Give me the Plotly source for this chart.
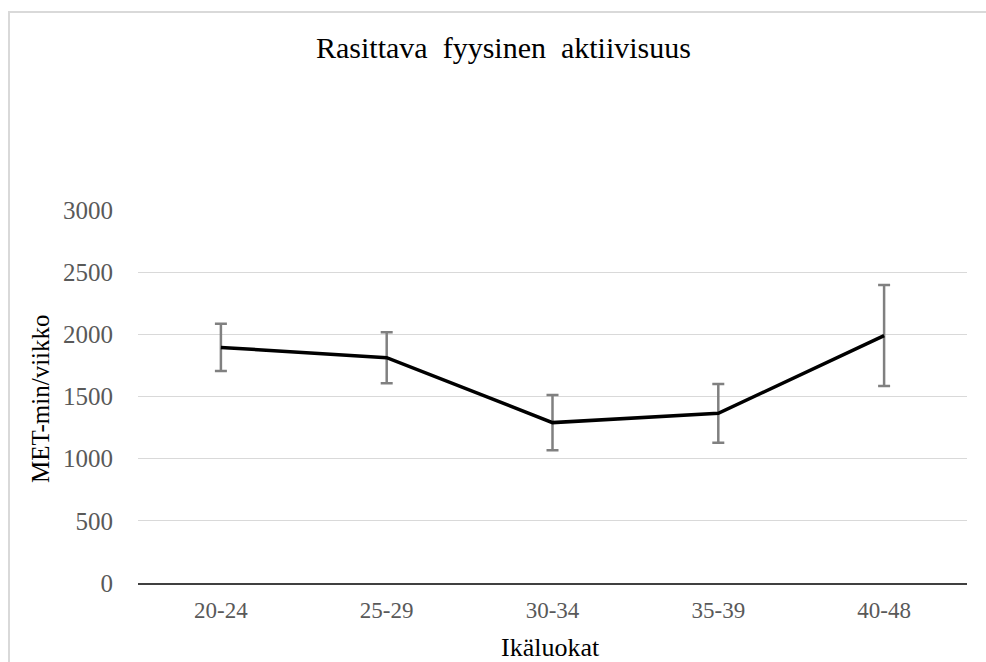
import plotly.graph_objects as go

# Age groups and vigorous physical activity (MET-min/week) with error margins
age_groups = ["20-24", "25-29", "30-34", "35-39", "40-48"]
met_minutes = [1895, 1812, 1290, 1365, 1990]
error_margin = [190, 205, 223, 236, 406]
y_ticks = [0, 500, 1000, 1500, 2000, 2500, 3000]

W, H = 986, 662
L, R, T, B = 138, 19, 210, 79
pw, ph = W - L - R, H - T - B

SERIF = "Liberation Serif, Times New Roman, serif"

fig = go.Figure()
fig.add_trace(go.Scatter(
    x=age_groups,
    y=met_minutes,
    mode="lines",
    line=dict(color="#000000", width=3.5),
    error_y=dict(type="data", array=error_margin, visible=True,
                 color="#808080", thickness=2.5, width=6),
    showlegend=False,
    hoverinfo="x+y",
))

def px_x(p):
    return (p - L) / pw

def px_y(p):
    return (H - B - p) / ph

fig.update_layout(
    width=W, height=H,
    margin=dict(l=L, r=R, t=T, b=B, autoexpand=False),
    paper_bgcolor="white",
    plot_bgcolor="white",
    font=dict(family=SERIF, color="#595959"),
    shapes=[dict(type="rect", xref="paper", yref="paper",
                 x0=px_x(9), x1=px_x(1010), y0=px_y(700), y1=px_y(12),
                 line=dict(color="#d9d9d9", width=2), fillcolor="rgba(0,0,0,0)",
                 layer="below")],
    annotations=[
        dict(text="Rasittava  fyysinen  aktiivisuus", xref="paper", yref="paper",
             x=px_x(503), y=px_y(48), xanchor="center", yanchor="middle",
             showarrow=False, font=dict(family=SERIF, size=30, color="#000000")),
        dict(text="MET-min/viikko", xref="paper", yref="paper",
             x=px_x(40), y=px_y(399), xanchor="center", yanchor="middle",
             textangle=-90, showarrow=False,
             font=dict(family=SERIF, size=25, color="#000000")),
        dict(text="Ikäluokat", xref="paper", yref="paper",
             x=px_x(550), y=px_y(647), xanchor="center", yanchor="middle",
             showarrow=False, font=dict(family=SERIF, size=26, color="#000000")),
    ],
)

fig.update_xaxes(
    type="category",
    range=[-0.5, len(age_groups) - 0.5],
    showgrid=False,
    showline=True, linecolor="#404040", linewidth=1.5,
    ticks="", ticklabelstandoff=6,
    tickfont=dict(family=SERIF, size=23, color="#595959"),
    zeroline=False,
)
fig.update_yaxes(
    range=[0, 3000],
    tickvals=y_ticks,
    showgrid=True, gridcolor="#d9d9d9", gridwidth=1,
    showline=False, zeroline=False,
    ticks="", ticklabelstandoff=24,
    tickfont=dict(family=SERIF, size=25, color="#595959"),
)

fig.write_html("out.html")
